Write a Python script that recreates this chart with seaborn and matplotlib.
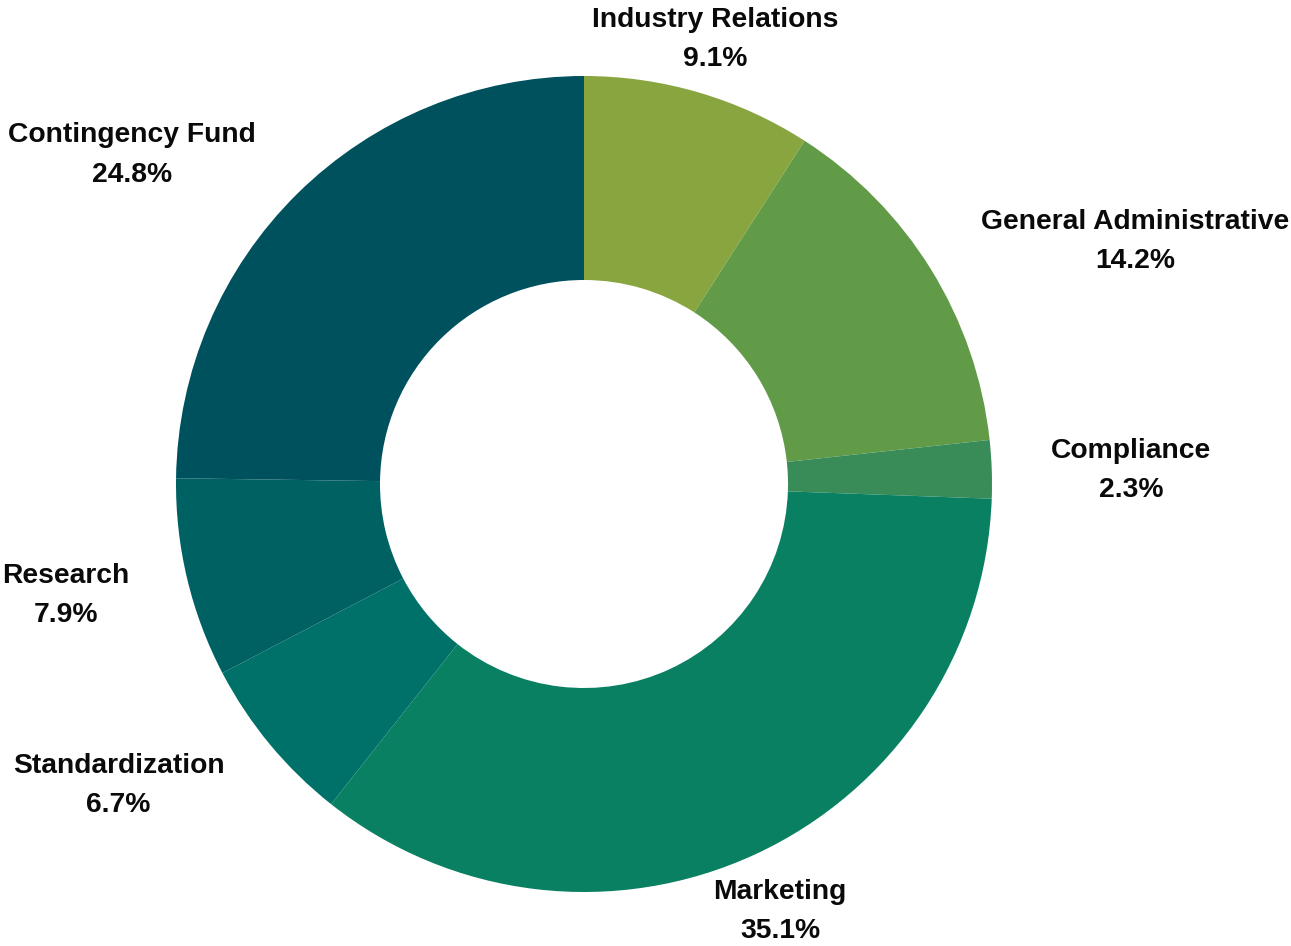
import numpy as np
import matplotlib
matplotlib.use("Agg")
import matplotlib.pyplot as plt
import seaborn as sns

categories = ["Industry Relations", "General Administrative", "Compliance",
              "Marketing", "Standardization", "Research", "Contingency Fund"]
shares = [9.1, 14.2, 2.3, 35.1, 6.7, 7.9, 24.8]
hex_colors = ["#89a540", "#619b48", "#398c58", "#0a8062",
              "#007168", "#006163", "#00515e"]

sns.set_theme(style="white")
plt.rcParams["font.family"] = ["Liberation Sans", "DejaVu Sans"]

W, H, DPI = 1291, 946, 100
fig = plt.figure(figsize=(W / DPI, H / DPI), dpi=DPI)
ax = fig.add_axes([0, 0, 1, 1])

cx, cy = 584, H - 484
r_out, r_in = 408, 204
palette = sns.color_palette(hex_colors)

wedges, _ = ax.pie(shares, colors=palette, startangle=90, counterclock=False,
                   radius=r_out, center=(cx, cy),
                   wedgeprops=dict(width=r_out - r_in, linewidth=0))

r_lab = 467
for w, name, val in zip(wedges, categories, shares):
    mid = np.deg2rad((w.theta1 + w.theta2) / 2)
    c, s = np.cos(mid), np.sin(mid)
    x, y = cx + r_lab * c, cy + r_lab * s - 3.5
    ha = "left" if c > 0.5 else ("right" if c < -0.5 else "center")
    ax.text(x, y, f"{name}\n{val:.1f}%", ha=ha, va="center",
            multialignment="center", fontsize=20.3, fontweight="bold",
            color="#0a0a0a", linespacing=1.66)

ax.set_xlim(0, W)
ax.set_ylim(0, H)
ax.set_aspect("equal")
ax.axis("off")

fig.savefig("out.png", dpi=DPI, facecolor="white")
